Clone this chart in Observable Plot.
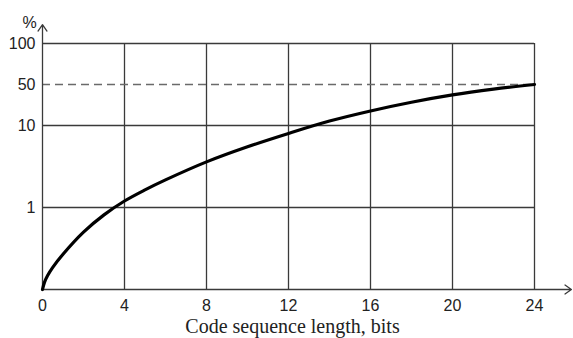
<!DOCTYPE html>
<html>
<head>
<meta charset="utf-8">
<script src="https://cdn.jsdelivr.net/npm/d3@7"></script>
<script src="https://cdn.jsdelivr.net/npm/@observablehq/plot@0.6"></script>
<style>
  html, body { margin: 0; padding: 0; background: #fff; }
  #chart svg { display: block; }
</style>
</head>
<body>
<div id="chart"></div>
<script>
// Code sequence length (bits) and the corresponding share, in percent
const bits    = [0, 0.1, 0.25, 0.5, 1, 2, 3, 4, 5, 6, 8, 10, 12, 14, 16, 18, 20, 22, 24];
const percent = [0, 0.09, 0.17, 0.27, 0.43, 0.70, 0.91, 1.2, 1.64, 2.17, 3.6, 5.5, 8.0, 11.9, 17.7, 24.9, 33.2, 41.6, 50];

const xTicks = [0, 4, 8, 12, 16, 20, 24];
const yTicks = [1, 10, 50, 100];
const gridX = [4, 8, 12, 16, 20, 24];
const gridY = [1, 10, 100];
const threshold = 50;

// Piecewise vertical scale: 0–1 linear, 1–10 one decade,
// 10–50 and 50–100 each take half of the top decade.
function level(v) {
  if (v <= 1) return v;
  if (v <= 10) return 1 + Math.log10(v);
  if (v <= 50) return 2 + 0.5 * Math.log(v / 10) / Math.log(5);
  return 2.5 + 0.5 * Math.log2(v / 50);
}

const data = bits.map((b, i) => ({bits: b, pct: percent[i]}));
const gridColor = "#3a3a3a";
const textColor = "#222";

const chart = Plot.plot({
  width: 573,
  height: 338,
  marginLeft: 42,
  marginRight: 39,
  marginTop: 43,
  marginBottom: 49,
  style: {fontFamily: "Liberation Sans, Arial, sans-serif", background: "#fff"},
  x: {domain: [0, 24]},
  y: {domain: [0, 3]},
  marks: [
    // grid
    Plot.ruleX(gridX, {y1: 0, y2: 3, stroke: gridColor, strokeWidth: 1.3}),
    Plot.ruleY(gridY, {y: level, x1: 0, x2: 24, stroke: gridColor, strokeWidth: 1.3}),
    Plot.ruleY([threshold], {y: level, x1: 0, x2: 24, stroke: "#6a6a6a", strokeWidth: 1.4, strokeDasharray: "8,5"}),
    // axes with arrowheads
    Plot.arrow([0], {x1: 0, y1: 0, x2: 25.8, y2: 0, stroke: gridColor, strokeWidth: 1.3, headLength: 9, headAngle: 70}),
    Plot.arrow([0], {x1: 0, y1: 0, x2: 0, y2: 3.23, stroke: gridColor, strokeWidth: 1.3, headLength: 9, headAngle: 70}),
    Plot.axisX(xTicks, {tickSize: 0, tickPadding: 10, fontSize: 16, fill: textColor, label: null}),
    Plot.axisY(yTicks.map(level), {
      tickSize: 0, tickPadding: 7, fontSize: 16, fill: textColor, label: null,
      tickFormat: (d, i) => String(yTicks[i])
    }),
    Plot.text(["%"], {frameAnchor: "top-left", dx: -20, dy: -27, fontSize: 16, fill: textColor}),
    Plot.text(["Code sequence length, bits"], {
      frameAnchor: "bottom", lineAnchor: "middle", dx: 4, dy: 37, fontSize: 20,
      fontFamily: "Liberation Serif, Times New Roman, serif", fill: textColor
    }),
    // curve
    Plot.line(data, {x: "bits", y: d => level(d.pct), curve: "catmull-rom", stroke: "#000", strokeWidth: 3.2})
  ]
});

document.getElementById("chart").append(chart);
</script>
</body>
</html>
